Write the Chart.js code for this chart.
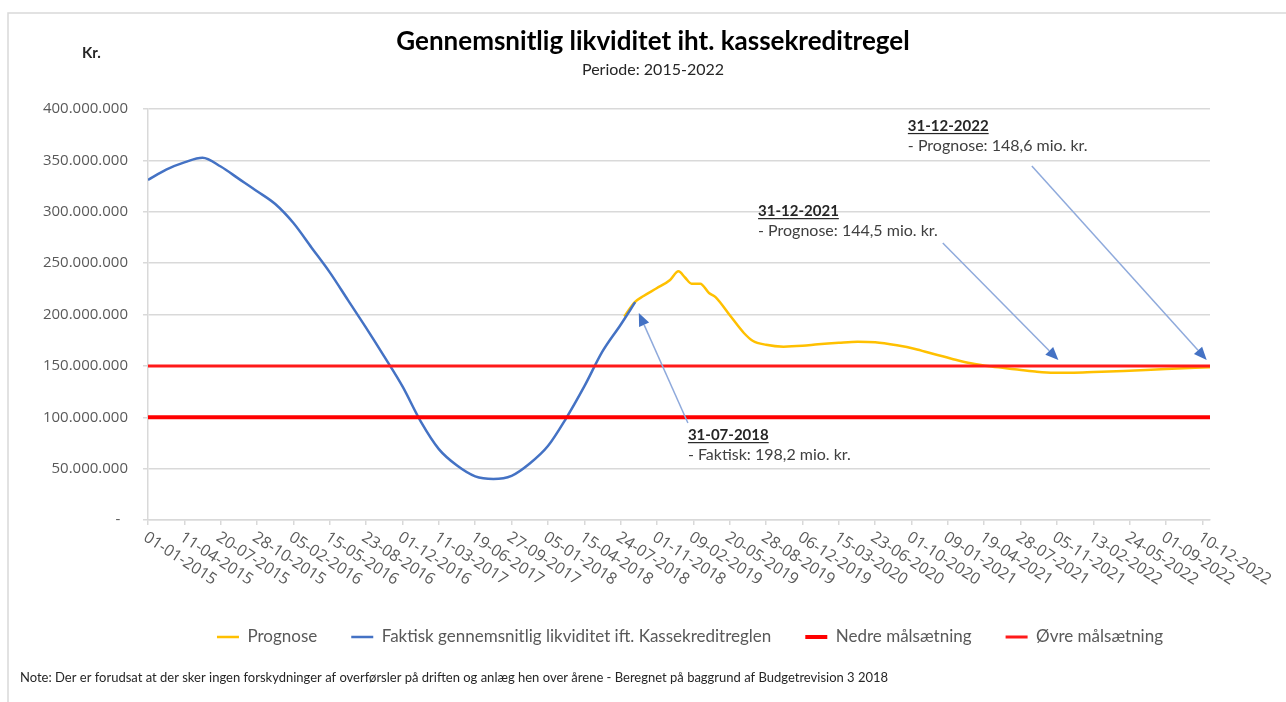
<!DOCTYPE html>
<html lang="da">
<head>
<meta charset="utf-8">
<title>Gennemsnitlig likviditet iht. kassekreditregel</title>
<script src="https://cdn.jsdelivr.net/npm/chart.js@4.4.1/dist/chart.umd.min.js"></script>
<style>
	html, body { margin: 0; padding: 0; background: #fff; }
	#wrap { position: relative; width: 1286px; height: 702px; }
</style>
</head>
<body>
<div id="wrap"><canvas id="myChart" width="1286" height="702"></canvas></div>
<script>

// x = dage regnet fra 01-01-2015, y = mio. kr.
const tickDays = [0, 100, 200, 300, 400, 500, 600, 700, 800, 900, 1000, 1100, 1200, 1300, 1400,
	1500, 1600, 1700, 1800, 1900, 2000, 2100, 2200, 2300, 2400, 2500, 2600, 2700, 2800, 2900];
const tickLabels = ['01-01-2015', '11-04-2015', '20-07-2015', '28-10-2015', '05-02-2016', '15-05-2016',
	'23-08-2016', '01-12-2016', '11-03-2017', '19-06-2017', '27-09-2017', '05-01-2018', '15-04-2018',
	'24-07-2018', '01-11-2018', '09-02-2019', '20-05-2019', '28-08-2019', '06-12-2019', '15-03-2020',
	'23-06-2020', '01-10-2020', '09-01-2021', '19-04-2021', '28-07-2021', '05-11-2021', '13-02-2022',
	'24-05-2022', '01-09-2022', '10-12-2022'];

const faktiskDays = [0, 50, 100, 150, 200, 250, 300, 350, 400, 450, 500, 550, 600, 650, 700,
	750, 800, 850, 900, 950, 1000, 1050, 1100, 1150, 1200, 1250, 1300, 1340];
const faktiskValues = [331, 341, 348, 352.5, 344, 332, 320, 307.5, 289, 265, 241, 214, 187, 159, 130,
	96, 69, 53, 42.5, 40, 43, 55, 72, 99, 130, 164, 190, 212];

const prognoseDays = [1310, 1339, 1363, 1399, 1436, 1459, 1477, 1495, 1519, 1543, 1561, 1603, 1639, 1663,
	1700, 1748, 1800, 1843, 1900, 1952, 2000, 2060, 2110, 2156, 2210, 2263, 2320, 2384, 2440, 2492,
	2546, 2600, 2684, 2800, 2921];
const prognoseValues = [198, 212, 218, 225.5, 233.6, 242, 236, 230, 230, 221, 217, 198, 182, 174.5,
	170.5, 168.7, 169.5, 171, 172.5, 173.5, 173, 170, 166.5, 162, 157, 152.5, 149.3, 146.7, 144.5, 143.4,
	143.4, 144, 145, 147, 148.6];

const nedreMaal = 100;
const oevreMaal = 150;
const firstDay = 0;
const lastDay = 2921; // 31-12-2022

const noteText = 'Note: Der er forudsat at der sker ingen forskydninger af overførsler på driften og anlæg hen over årene - Beregnet på baggrund af Budgetrevision 3 2018';

// tekstbokse med pile (placeret i aksernes enheder: dag, mio. kr.)
const callouts = [
	{ title: '31-07-2018', text: '- Faktisk: 198,2 mio. kr.', at: [1485, 82.7], from: [1485, 94.4], to: [1350, 201.5] },
	{ title: '31-12-2021', text: '- Prognose: 144,5 mio. kr.', at: [1678, 300.7], from: [2186, 269.6], to: [2504, 155.7] },
	{ title: '31-12-2022', text: '- Prognose: 148,6 mio. kr.', at: [2090, 383.5], from: [2431, 344.5], to: [2912, 155.7] }
];

function toPoints(days, values){
	return days.map(function(d, i){ return { x: d, y: values[i] }; });
}

function formatKr(v){
	if (v === 0) return '-  ';
	return String(Math.round(v * 1000000)).replace(/\B(?=(\d{3})+(?!\d))/g, '.');
}

function drawArrow(ctx, x1, y1, x2, y2){
	const ang = Math.atan2(y2 - y1, x2 - x1);
	const head = 13, half = 5.5;
	const bx = x2 - head * Math.cos(ang), by = y2 - head * Math.sin(ang);
	ctx.strokeStyle = '#8faadc';
	ctx.lineWidth = 1.5;
	ctx.beginPath();
	ctx.moveTo(x1, y1);
	ctx.lineTo(bx, by);
	ctx.stroke();
	ctx.fillStyle = '#4472c4';
	ctx.beginPath();
	ctx.moveTo(x2, y2);
	ctx.lineTo(bx + half * Math.sin(ang), by - half * Math.cos(ang));
	ctx.lineTo(bx - half * Math.sin(ang), by + half * Math.cos(ang));
	ctx.closePath();
	ctx.fill();
}

const decorations = {
	id: 'decorations',

	afterLayout(chart){
		// titel og legende er ikke centreret over hele bredden i originalen
		chart.boxes.forEach(function(b){
			if (b === chart.legend) {
				b.left += 85;
				b.right += 85;
			} else if (b.position === 'top' && b.options && b.options.text !== undefined) {
				b.left += 48;
				b.right += 48;
			}
		});
	},

	beforeDraw(chart){
		const ctx = chart.ctx;
		ctx.save();
		ctx.fillStyle = '#fff';
		ctx.fillRect(0, 0, chart.width, chart.height);
		ctx.strokeStyle = '#d9d9d9';
		ctx.lineWidth = 1.5;
		ctx.beginPath();
		ctx.moveTo(8, chart.height);
		ctx.lineTo(8, 13);
		ctx.lineTo(chart.width, 13);
		ctx.stroke();
		ctx.restore();
	},

	afterDraw(chart){
		const ctx = chart.ctx;
		const xs = chart.scales.x, ys = chart.scales.y;
		ctx.save();

		// enhed
		ctx.fillStyle = '#262626';
		ctx.font = 'bold 15px Lato';
		ctx.textAlign = 'left';
		ctx.textBaseline = 'middle';
		ctx.fillText('Kr.', 82, 53);

		// skrå dato-etiketter (Excel-stil)
		ctx.fillStyle = '#595959';
		ctx.font = '16px "Open Sans"';
		tickDays.forEach(function(d, i){
			const px = xs.getPixelForValue(d);
			ctx.save();
			ctx.translate(px - 3, 536);
			ctx.rotate(33 * Math.PI / 180);
			ctx.fillText(tickLabels[i], 0, 0);
			ctx.restore();
		});

		// pile og tekst
		callouts.forEach(function(c){
			drawArrow(ctx, xs.getPixelForValue(c.from[0]), ys.getPixelForValue(c.from[1]),
				xs.getPixelForValue(c.to[0]), ys.getPixelForValue(c.to[1]));
			const tx = xs.getPixelForValue(c.at[0]);
			const ty = ys.getPixelForValue(c.at[1]);
			ctx.textAlign = 'left';
			ctx.textBaseline = 'middle';
			ctx.fillStyle = '#262626';
			ctx.font = 'bold 15px Lato';
			ctx.fillText(c.title, tx, ty);
			const w = ctx.measureText(c.title).width;
			ctx.fillRect(tx, ty + 7, w, 1.2);
			ctx.fillStyle = '#404040';
			ctx.font = '16px Lato';
			ctx.fillText(c.text, tx, ty + 20);
		});

		// note
		ctx.fillStyle = '#262626';
		ctx.font = '13px Lato';
		ctx.textAlign = 'left';
		ctx.textBaseline = 'middle';
		ctx.fillText(noteText, 20, 678);

		ctx.restore();
	}
};

const chart = new Chart(document.getElementById('myChart').getContext('2d'), {
	type: 'line',
	data: {
		datasets: [{
			label: 'Prognose',
			data: toPoints(prognoseDays, prognoseValues),
			borderColor: '#ffc000',
			backgroundColor: '#ffc000',
			borderWidth: 2.5,
			pointRadius: 0,
			cubicInterpolationMode: 'monotone',
			order: 3
		}, {
			label: 'Faktisk gennemsnitlig likviditet ift. Kassekreditreglen',
			data: toPoints(faktiskDays, faktiskValues),
			borderColor: '#4472c4',
			backgroundColor: '#4472c4',
			borderWidth: 2.5,
			pointRadius: 0,
			cubicInterpolationMode: 'monotone',
			order: 2
		}, {
			label: 'Nedre målsætning',
			data: [{ x: firstDay, y: nedreMaal }, { x: lastDay, y: nedreMaal }],
			borderColor: '#ff0000',
			backgroundColor: '#ff0000',
			borderWidth: 4,
			pointRadius: 0,
			order: 1
		}, {
			label: 'Øvre målsætning',
			data: [{ x: firstDay, y: oevreMaal }, { x: lastDay, y: oevreMaal }],
			borderColor: '#ff1a1a',
			backgroundColor: '#ff1a1a',
			borderWidth: 3,
			pointRadius: 0,
			order: 0
		}]
	},
	options: {
		responsive: false,
		animation: false,
		devicePixelRatio: 1,
		layout: { padding: { top: 0, left: 0, right: 76, bottom: 46.5 } },
		scales: {
			x: {
				type: 'linear',
				min: firstDay,
				max: lastDay,
				afterBuildTicks(scale){
					scale.ticks = tickDays.map(function(d){ return { value: d }; });
				},
				afterFit(scale){ scale.height = 74.5; },
				ticks: { display: false },
				grid: { drawOnChartArea: false, color: '#d9d9d9', lineWidth: 1.5, tickLength: 5 },
				border: { color: '#d9d9d9', width: 1.5 }
			},
			y: {
				min: 0,
				max: 400,
				afterFit(scale){ scale.width = 148; },
				ticks: {
					stepSize: 50,
					padding: 15,
					color: '#595959',
					font: { family: 'Open Sans', size: 15 },
					callback: function(v){ return formatKr(v); }
				},
				grid: { color: '#d9d9d9', lineWidth: 1.5, tickLength: 5 },
				border: { color: '#d9d9d9', width: 1.5 }
			}
		},
		plugins: {
			title: {
				display: true,
				text: 'Gennemsnitlig likviditet iht. kassekreditregel',
				color: '#000',
				font: { family: 'Lato', size: 26, weight: 'bold' },
				padding: { top: 26.4, bottom: 2 }
			},
			subtitle: {
				display: true,
				text: 'Periode: 2015-2022',
				color: '#262626',
				font: { family: 'Lato', size: 16 },
				padding: { top: 0.8, bottom: 29.4 }
			},
			legend: {
				position: 'bottom',
				labels: {
					usePointStyle: true,
					pointStyle: 'line',
					pointStyleWidth: 22,
					padding: 34,
					color: '#595959',
					font: { family: 'Lato', size: 17 },
					sort: function(a, b){ return a.datasetIndex - b.datasetIndex; }
				}
			},
			tooltip: { enabled: false }
		}
	},
	plugins: [decorations]
});

</script>
</body>
</html>
